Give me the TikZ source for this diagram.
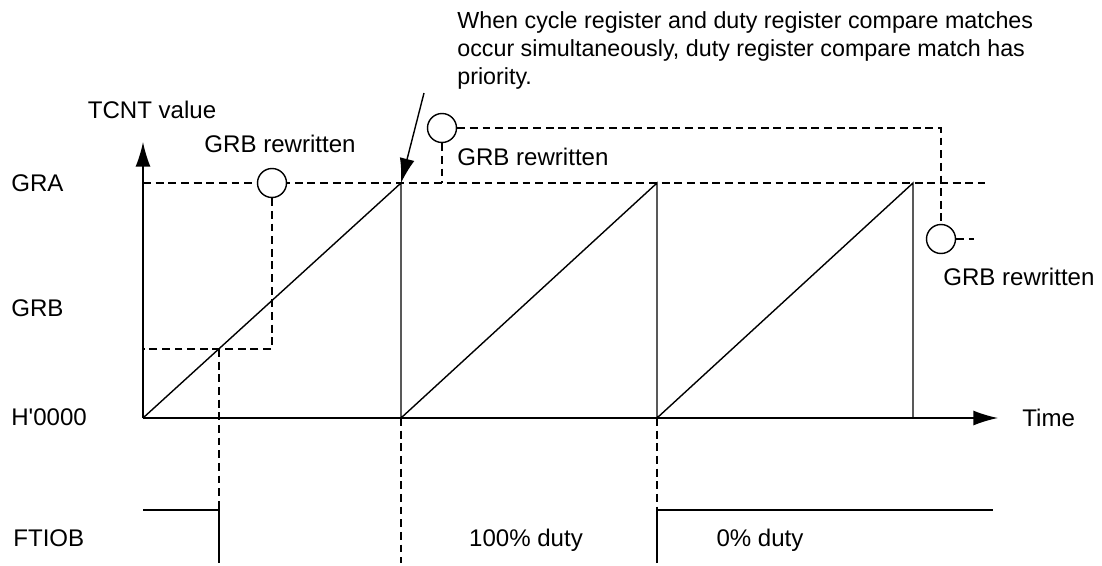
\documentclass[tikz,border=0pt]{standalone}
\usepackage{fontspec}
\setmainfont{Liberation Sans}[Ligatures=TeXOff]
\usetikzlibrary{arrows.meta,positioning}

\begin{document}
\begin{tikzpicture}[
  x=0.02cm, y=-0.02cm,
  lbl/.style={font=\fontsize{13.7}{15.9}\selectfont, inner sep=0pt},
  rw/.style={draw, circle, fill=white, minimum size=0.58cm, inner sep=0pt, line width=0.8pt},
  guide/.style={line width=0.8pt, dash pattern=on 4.5pt off 2.7pt},
  sig/.style={line width=0.8pt},
  tip/.style={-{Latex[length=14pt, width=8.5pt]}}
]
  \useasboundingbox (0,0) rectangle (1102,565);

  % axes and counter ramps
  \coordinate (o)    at (143,418);
  \coordinate (ytop) at (143,142);
  \coordinate (xend) at (998,418);
  \coordinate (p1) at (401,183);  \coordinate (b1) at (401,418);
  \coordinate (p2) at (657,183);  \coordinate (b2) at (657,418);
  \coordinate (p3) at (913,183);  \coordinate (b3) at (913,418);
  \coordinate (graL) at (143,183); \coordinate (graR) at (985,183);

  \draw[guide] (graL) -- (graR);
  \draw[sig, tip] (o) -- (ytop);
  \draw[sig, tip] (o) -- (xend);
  \draw[sig] (o) -- (p1) -- (b1) -- (p2) -- (b2) -- (p3) -- (b3);

  \node[lbl, anchor=west] (gra)  at (11,183) {GRA};
  \node[lbl, anchor=west] (grb)  at (11,308) {GRB};
  \node[lbl, anchor=west] (zero) at (11,417) {H'0000};
  \node[lbl, anchor=west] (ftiob) at (13,538) {FTIOB};
  \node[lbl] (tcnt) at (152,110) {TCNT value};
  \node[lbl, anchor=west] (time) at (1022,418) {Time};

  % GRB rewrite points
  \node[rw] (c1) at (272,183) {};
  \node[rw] (c2) at (442,128) {};
  \node[rw] (c3) at (941,239) {};
  \coordinate (g1) at (272,349);
  \coordinate (g0) at (143,349);
  \coordinate (gx) at (219,349);
  \coordinate (c2r) at (941,128);
  \coordinate (c2b) at (442,183);
  \draw[guide] (c1.south) -- (g1) -- (g0);
  \draw[guide] (c2.east) -- (c2r) -- (c3.north);
  \draw[guide] (c2.south) -- (c2b);
  \draw[guide] (c3.east) -- ++(18,0);

  \node[lbl] (rw1) at (280,144) {GRB rewritten};
  \node[lbl, anchor=west] (rw2) at (457,157) {GRB rewritten};
  \node[lbl, anchor=west] (rw3) at (943,277) {GRB rewritten};

  \node[lbl, font=\fontsize{13.25}{15.9}\selectfont, anchor=north west, align=left] (note) at (457,11)
    {When cycle register and duty register compare matches\\
     occur simultaneously, duty register compare match has\\
     priority.};
  \coordinate (ntail) at (424,93);
  \draw[sig, tip] (ntail) -- (p1);

  % FTIOB output
  \coordinate (f0) at (143,510); \coordinate (f1) at (219,510); \coordinate (f2) at (219,563);
  \coordinate (r0) at (657,563); \coordinate (r1) at (657,510); \coordinate (r2) at (993,510);
  \coordinate (d1) at (401,563);
  \draw[sig] (f0) -- (f1) -- (f2);
  \draw[sig] (r0) -- (r1) -- (r2);
  \draw[guide] (gx) -- (f1);
  \draw[guide] (b1) -- (d1);
  \draw[guide] (b2) -- (r1);

  \node[lbl] (full) at (526,540) {100\% duty};
  \node[lbl] (none) at (760,540) {0\% duty};
\end{tikzpicture}
\end{document}
